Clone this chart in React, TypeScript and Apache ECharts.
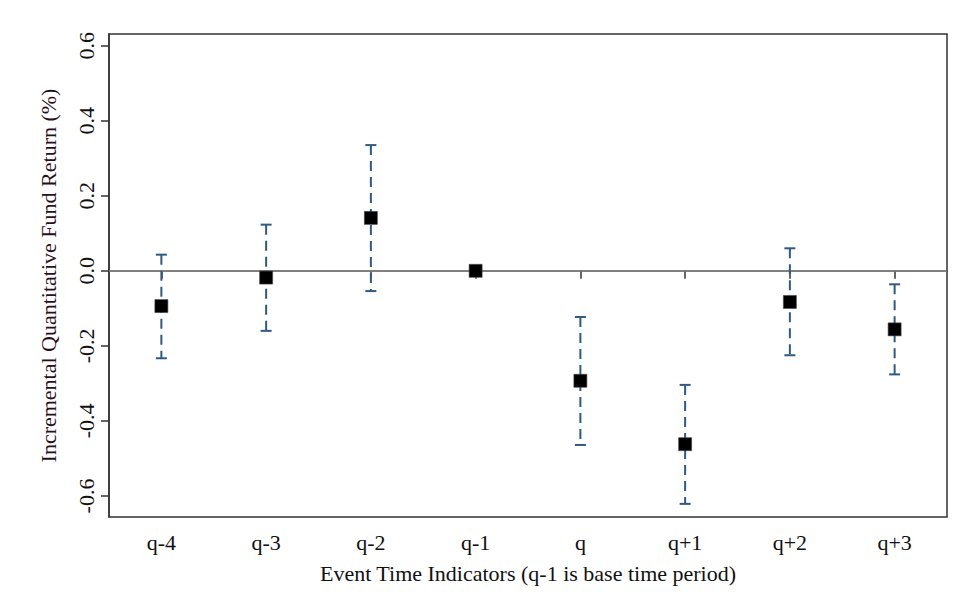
import React, { useEffect, useRef } from "react";
import * as echarts from "echarts";

const categories = ["q-4", "q-3", "q-2", "q-1", "q", "q+1", "q+2", "q+3"];
const estimates = [-0.094, -0.018, 0.141, 0.0, -0.293, -0.462, -0.083, -0.156];
const lowerCI = [-0.233, -0.16, -0.054, null, -0.464, -0.621, -0.225, -0.276];
const upperCI = [0.043, 0.123, 0.335, null, -0.123, -0.304, 0.06, -0.036];
const yTicks = [-0.6, -0.4, -0.2, 0, 0.2, 0.4, 0.6];

const FONT = "Liberation Serif";

export default function App() {
  const ref = useRef<HTMLDivElement>(null);
  useEffect(() => {
    if (!ref.current) return;
    const chart = echarts.init(ref.current, null, { renderer: "svg" });
    const errData = categories
      .map((c, i) => (lowerCI[i] == null ? null : [i, lowerCI[i], upperCI[i]]))
      .filter((d) => d != null);
    chart.setOption({
      animation: false,
      backgroundColor: "#ffffff",
      grid: {
        left: 109,
        right: 14,
        top: 34,
        bottom: 86,
        show: true,
        borderColor: "#333333",
        borderWidth: 1.5,
        backgroundColor: "transparent",
      },
      xAxis: {
        type: "category",
        data: categories,
        boundaryGap: true,
        axisLine: { show: true, lineStyle: { color: "#333333", width: 1.5 } },
        axisTick: { show: true, alignWithLabel: true, length: 8, lineStyle: { color: "#333333", width: 1.5 } },
        axisLabel: { color: "#111111", fontFamily: FONT, fontSize: 22, margin: 14 },
        splitLine: { show: false },
        name: "Event Time Indicators (q-1 is base time period)",
        nameLocation: "middle",
        nameGap: 45,
        nameTextStyle: { color: "#111111", fontFamily: FONT, fontSize: 22 },
      },
      yAxis: {
        type: "value",
        min: -0.656,
        max: 0.631,
        axisLine: { show: true, lineStyle: { color: "#333333", width: 1.5 } },
        axisTick: { show: true, length: 8, customValues: yTicks, lineStyle: { color: "#333333", width: 1.5 } },
        axisLabel: {
          color: "#111111",
          fontFamily: FONT,
          fontSize: 22,
          rotate: 90,
          margin: 12,
          customValues: yTicks,
          formatter: (v: number) => v.toFixed(1),
        },
        splitLine: { show: false },
        name: "Incremental Quantitative Fund Return (%)",
        nameLocation: "middle",
        nameRotate: 90,
        nameGap: 50,
        nameTextStyle: { color: "#2a0f1a", fontFamily: FONT, fontSize: 22 },
      },
      series: [
        {
          type: "custom",
          data: errData,
          z: 2,
          renderItem: (params: any, api: any) => {
            const x = api.value(0);
            const lo = api.coord([x, api.value(1)]);
            const hi = api.coord([x, api.value(2)]);
            const cw = 5.5;
            const style = { stroke: "#2f5a82", lineWidth: 2 };
            return {
              type: "group",
              children: [
                {
                  type: "line",
                  shape: { x1: hi[0], y1: hi[1], x2: lo[0], y2: lo[1] },
                  style: { ...style, lineDash: [10, 6] },
                },
                { type: "line", shape: { x1: hi[0] - cw, y1: hi[1], x2: hi[0] + cw, y2: hi[1] }, style },
                { type: "line", shape: { x1: lo[0] - cw, y1: lo[1], x2: lo[0] + cw, y2: lo[1] }, style },
              ],
            };
          },
        },
        {
          type: "scatter",
          data: estimates,
          symbol: "rect",
          symbolSize: 13,
          z: 3,
          itemStyle: { color: "#000000", borderColor: "#444444", borderWidth: 0.6, opacity: 1 },
          markLine: {
            silent: true,
            symbol: "none",
            label: { show: false },
            lineStyle: { color: "#8a8a8a", width: 1.5, type: "solid" },
            data: [{ yAxis: 0 }],
            z: 1,
          },
        },
      ],
    });
    return () => chart.dispose();
  }, []);
  return (
    <div
      ref={ref}
      style={{ position: "fixed", left: 0, top: 0, width: 961, height: 603 }}
    />
  );
}
